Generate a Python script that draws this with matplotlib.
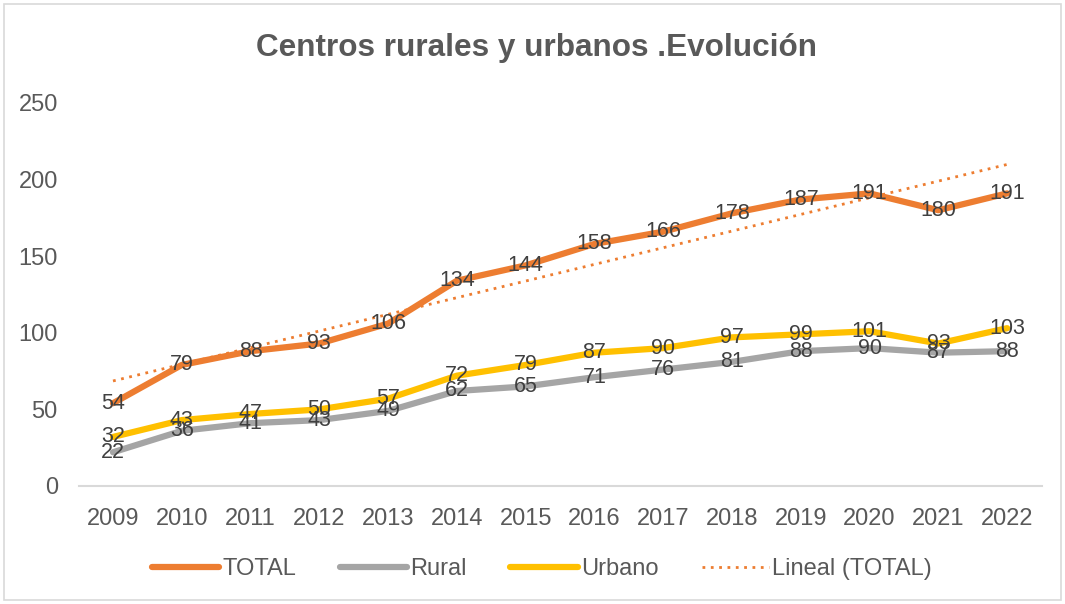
import numpy as np
import matplotlib.pyplot as plt
from matplotlib.patches import Rectangle

years = [2009, 2010, 2011, 2012, 2013, 2014, 2015, 2016, 2017, 2018, 2019, 2020, 2021, 2022]
total = [54, 79, 88, 93, 106, 134, 144, 158, 166, 178, 187, 191, 180, 191]
rural = [22, 36, 41, 43, 49, 62, 65, 71, 76, 81, 88, 90, 87, 88]
urbano = [32, 43, 47, 50, 57, 72, 79, 87, 90, 97, 99, 101, 93, 103]

plt.rcParams['font.family'] = ['Liberation Sans', 'DejaVu Sans']

fig = plt.figure(figsize=(10.65, 6.04), dpi=100)
ax = fig.add_axes([0.0738, 0.1954, 0.9042, 0.6341])

x = np.arange(len(years))
ax.plot(x, total, color='#ED7D31', lw=4.5, solid_capstyle='round', label='TOTAL', zorder=3)
ax.plot(x, rural, color='#A5A5A5', lw=4.5, solid_capstyle='round', label='Rural', zorder=3)
ax.plot(x, urbano, color='#FFC000', lw=4.5, solid_capstyle='round', label='Urbano', zorder=3)

# linear trend of TOTAL
m, b = np.polyfit(x, total, 1)
ax.plot(x, m * x + b, color='#ED7D31', lw=2, ls=(0, (1, 2)), label='Lineal (TOTAL)', zorder=2)

for series in (total, rural, urbano):
    for xi, v in zip(x, series):
        ax.text(xi, v, str(v), ha='center', va='center', fontsize=15.5, color='#404040', zorder=4)

ax.set_xlim(-0.5, len(years) - 0.5)
ax.set_ylim(0, 250)
ax.set_yticks(range(0, 251, 50))
ax.set_xticks(x)
ax.set_xticklabels([str(y) for y in years])
ax.tick_params(axis='both', length=0, labelsize=17, colors='#595959')
ax.tick_params(axis='x', pad=16)
ax.tick_params(axis='y', pad=15)
for s in ['top', 'right', 'left']:
    ax.spines[s].set_visible(False)
ax.spines['bottom'].set_color('#D9D9D9')
ax.spines['bottom'].set_linewidth(1.5)

fig.text(0.504, 0.92, 'Centros rurales y urbanos .Evolución', ha='center', va='center',
         fontsize=22.7, fontweight='bold', color='#595959')

leg = fig.legend(loc='center', bbox_to_anchor=(0.509, 0.058), ncol=4, frameon=False,
                 fontsize=17, handlelength=2.85, handletextpad=0.13, columnspacing=1.85)
for t in leg.get_texts():
    t.set_color('#595959')

fig.patches.append(Rectangle((0.004, 0.006), 0.992, 0.988, transform=fig.transFigure,
                             fill=False, edgecolor='#D9D9D9', lw=1.2))

fig.savefig('out.png', dpi=100)
